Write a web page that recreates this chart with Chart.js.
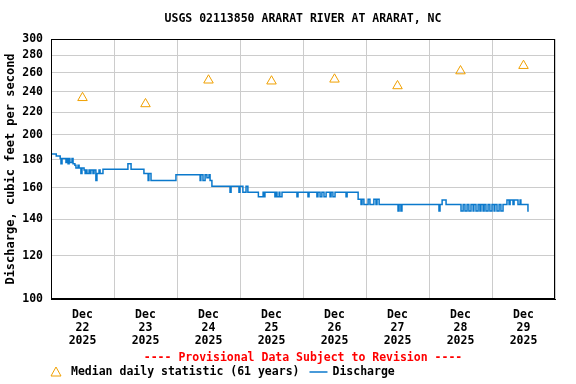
<!DOCTYPE html>
<html><head><meta charset="utf-8">
<script src="https://cdn.jsdelivr.net/npm/chart.js@4/dist/chart.umd.min.js"></script>
<style>html,body{margin:0;padding:0;background:#fff}#wrap{width:576px;height:384px}</style>
</head><body><div id="wrap"><canvas id="c" width="576" height="384"></canvas></div>
<script>
const chartTitle = 'USGS 02113850 ARARAT RIVER AT ARARAT, NC';
const yAxisTitle = 'Discharge, cubic feet per second';
const provisionalNote = '---- Provisional Data Subject to Revision ----';
const medianLabel = 'Median daily statistic (61 years)';
const dischargeLabel = 'Discharge';
const dayLabels = [['Dec','22','2025'],['Dec','23','2025'],['Dec','24','2025'],['Dec','25','2025'],['Dec','26','2025'],['Dec','27','2025'],['Dec','28','2025'],['Dec','29','2025']];
const yTicks = [100,120,140,160,180,200,220,240,260,280,300];
// hours since Dec 22 00:00
const medianHours = [12,36,60,84,108,132,156,180];
const medianValues = [234,228,252,251,253,246,262,268];
const dischargeHours = [0,2,3.5,3.8,4.2,5.7,6.1,6.5,6.9,7.2,8,8.4,9.1,9.5,10.3,10.7,11.4,11.8,12.6,13,13.3,13.7,14.5,14.9,15.2,16,16.4,17.1,17.5,18.3,18.7,19.8,29.3,30.5,35.4,37,37.3,38.1,47.6,56.8,57.1,57.9,58.7,59.4,60.2,60.6,61.3,68.2,68.6,71.6,72,73.1,74.3,75,79,80.8,81.2,81.5,85.3,85.7,86.1,86.9,87.2,88,93.7,94.1,97.9,98.3,101.3,101.7,102.5,103.2,104,104.8,106.3,106.7,107.4,108.2,112.4,112.8,117,118.1,118.5,119.2,120.8,121.5,123,123.8,124.2,125,132.2,132.6,133.3,133.7,147.8,148.2,149,150.5,156.2,157,157.7,158.5,159.2,160,160.8,161.1,161.9,162.7,163.4,163.8,164.6,165,165.7,166.5,167.2,168,168.8,169.1,169.9,170.7,171.4,172.2,173.7,174.5,174.9,176,176.4,177.9,178.7,179,181.7,182];
const dischargeValues = [184.5,183,181,177,181,178,181,177,181,178,181,177,176,174,176,174,170,174,172.5,170,172.5,170,172.5,170,172.5,170,172.5,165,170,172.5,170,173,177,173,170,165,170,165,169,165,169,165,169,167,169,165,161,157,161,157,161,157,161,157,154,157,154,157,154,157,154,157,154,157,154,157,154,157,154,157,154,157,154,157,154,157,154,157,154,157,152.5,149,152.5,149,152.5,149,152.5,149,152.5,149,145,149,145,149,145,149,152,149,145,149,145,149,145,149,145,149,145,149,145,149,145,149,145,149,145,149,145,149,145,149,145,149,152,149,152,149,152,149,152,149,145,145];

const FONT = "'DejaVu Sans Mono', monospace";
const txt = {
  id: 'txt',
  afterDraw(chart) {
    const ctx = chart.ctx, a = chart.chartArea;
    ctx.save();
    ctx.strokeStyle = '#000'; ctx.lineWidth = 1;
    ctx.strokeRect(Math.round(a.left) + 0.5, Math.round(a.top) + 0.5, Math.round(a.right - a.left) - 1, Math.round(a.bottom - a.top) - 1);
    const cx = (a.left + a.right) / 2;
    ctx.textAlign = 'center'; ctx.textBaseline = 'middle';
    ctx.font = 'bold 11.5px ' + FONT;
    ctx.fillStyle = '#000';
    ctx.fillText(chartTitle, cx, 19);
    ctx.fillStyle = '#ff0000';
    ctx.fillText(provisionalNote, cx, 358);
    // legend
    const ly = 372;
    ctx.strokeStyle = '#f0a000'; ctx.lineWidth = 1;
    ctx.beginPath(); ctx.moveTo(56, ly - 5); ctx.lineTo(61, ly + 4); ctx.lineTo(51, ly + 4); ctx.closePath(); ctx.stroke();
    ctx.fillStyle = '#000'; ctx.textAlign = 'left';
    ctx.fillText(medianLabel, 71, ly);
    const w = ctx.measureText(medianLabel).width;
    ctx.strokeStyle = '#0b79cc'; ctx.lineWidth = 1.5;
    ctx.beginPath(); ctx.moveTo(71 + w + 10, ly); ctx.lineTo(71 + w + 28, ly); ctx.stroke();
    ctx.fillText(dischargeLabel, 71 + w + 33, ly);
    ctx.restore();
  }
};

new Chart(document.getElementById('c'), {
  type: 'line',
  data: {
    datasets: [
      { label: dischargeLabel, data: dischargeHours.map((h, i) => ({ x: h, y: dischargeValues[i] })), stepped: 'before', borderColor: '#0b79cc', borderWidth: 1.5, pointRadius: 0, fill: false, order: 2 },
      { label: medianLabel, data: medianHours.map((h, i) => ({ x: h, y: medianValues[i] })), showLine: false, pointStyle: 'triangle', pointRadius: 5.5, borderColor: '#f0a000', backgroundColor: 'rgba(0,0,0,0)', borderWidth: 1, order: 1 }
    ]
  },
  options: {
    responsive: false, animation: false, devicePixelRatio: 1,
    layout: { padding: { top: 39, right: 21, left: 0, bottom: 0 } },
    plugins: { legend: { display: false }, title: { display: false }, tooltip: { enabled: false } },
    scales: {
      x: {
        type: 'linear', min: 0, max: 192,
        afterBuildTicks: s => { s.ticks = [0,12,24,36,48,60,72,84,96,108,120,132,144,156,168,180,192].map(v => ({ value: v })); },
        afterFit: s => { s.height = 85; },
        grid: { color: c => (c.tick && c.tick.value % 24 === 0) ? '#cccccc' : 'rgba(0,0,0,0)', drawTicks: false, lineWidth: 1 },
        border: { display: true, color: '#000', width: 1 },
        ticks: { autoSkip: false, maxRotation: 0, padding: 9, color: '#000', font: { family: FONT, size: 11.5, weight: 'bold', lineHeight: 1.15 },
          callback: v => (v % 24 === 12) ? dayLabels[(v - 12) / 24] : '' }
      },
      y: {
        type: 'logarithmic', min: 100, max: 300,
        afterBuildTicks: s => { s.ticks = yTicks.map(v => ({ value: v })); },
        afterFit: s => { s.width = 51; },
        grid: { color: '#cccccc', drawTicks: false, lineWidth: 1 },
        border: { display: true, color: '#000', width: 1 },
        ticks: { padding: 8, color: '#000', font: { family: FONT, size: 11.5, weight: 'bold' }, callback: v => String(v) },
        title: { display: true, text: yAxisTitle, color: '#000', font: { family: FONT, size: 12, weight: 'bold' }, padding: { top: 4, bottom: 4 } }
      }
    }
  },
  plugins: [txt]
});
</script></body></html>
